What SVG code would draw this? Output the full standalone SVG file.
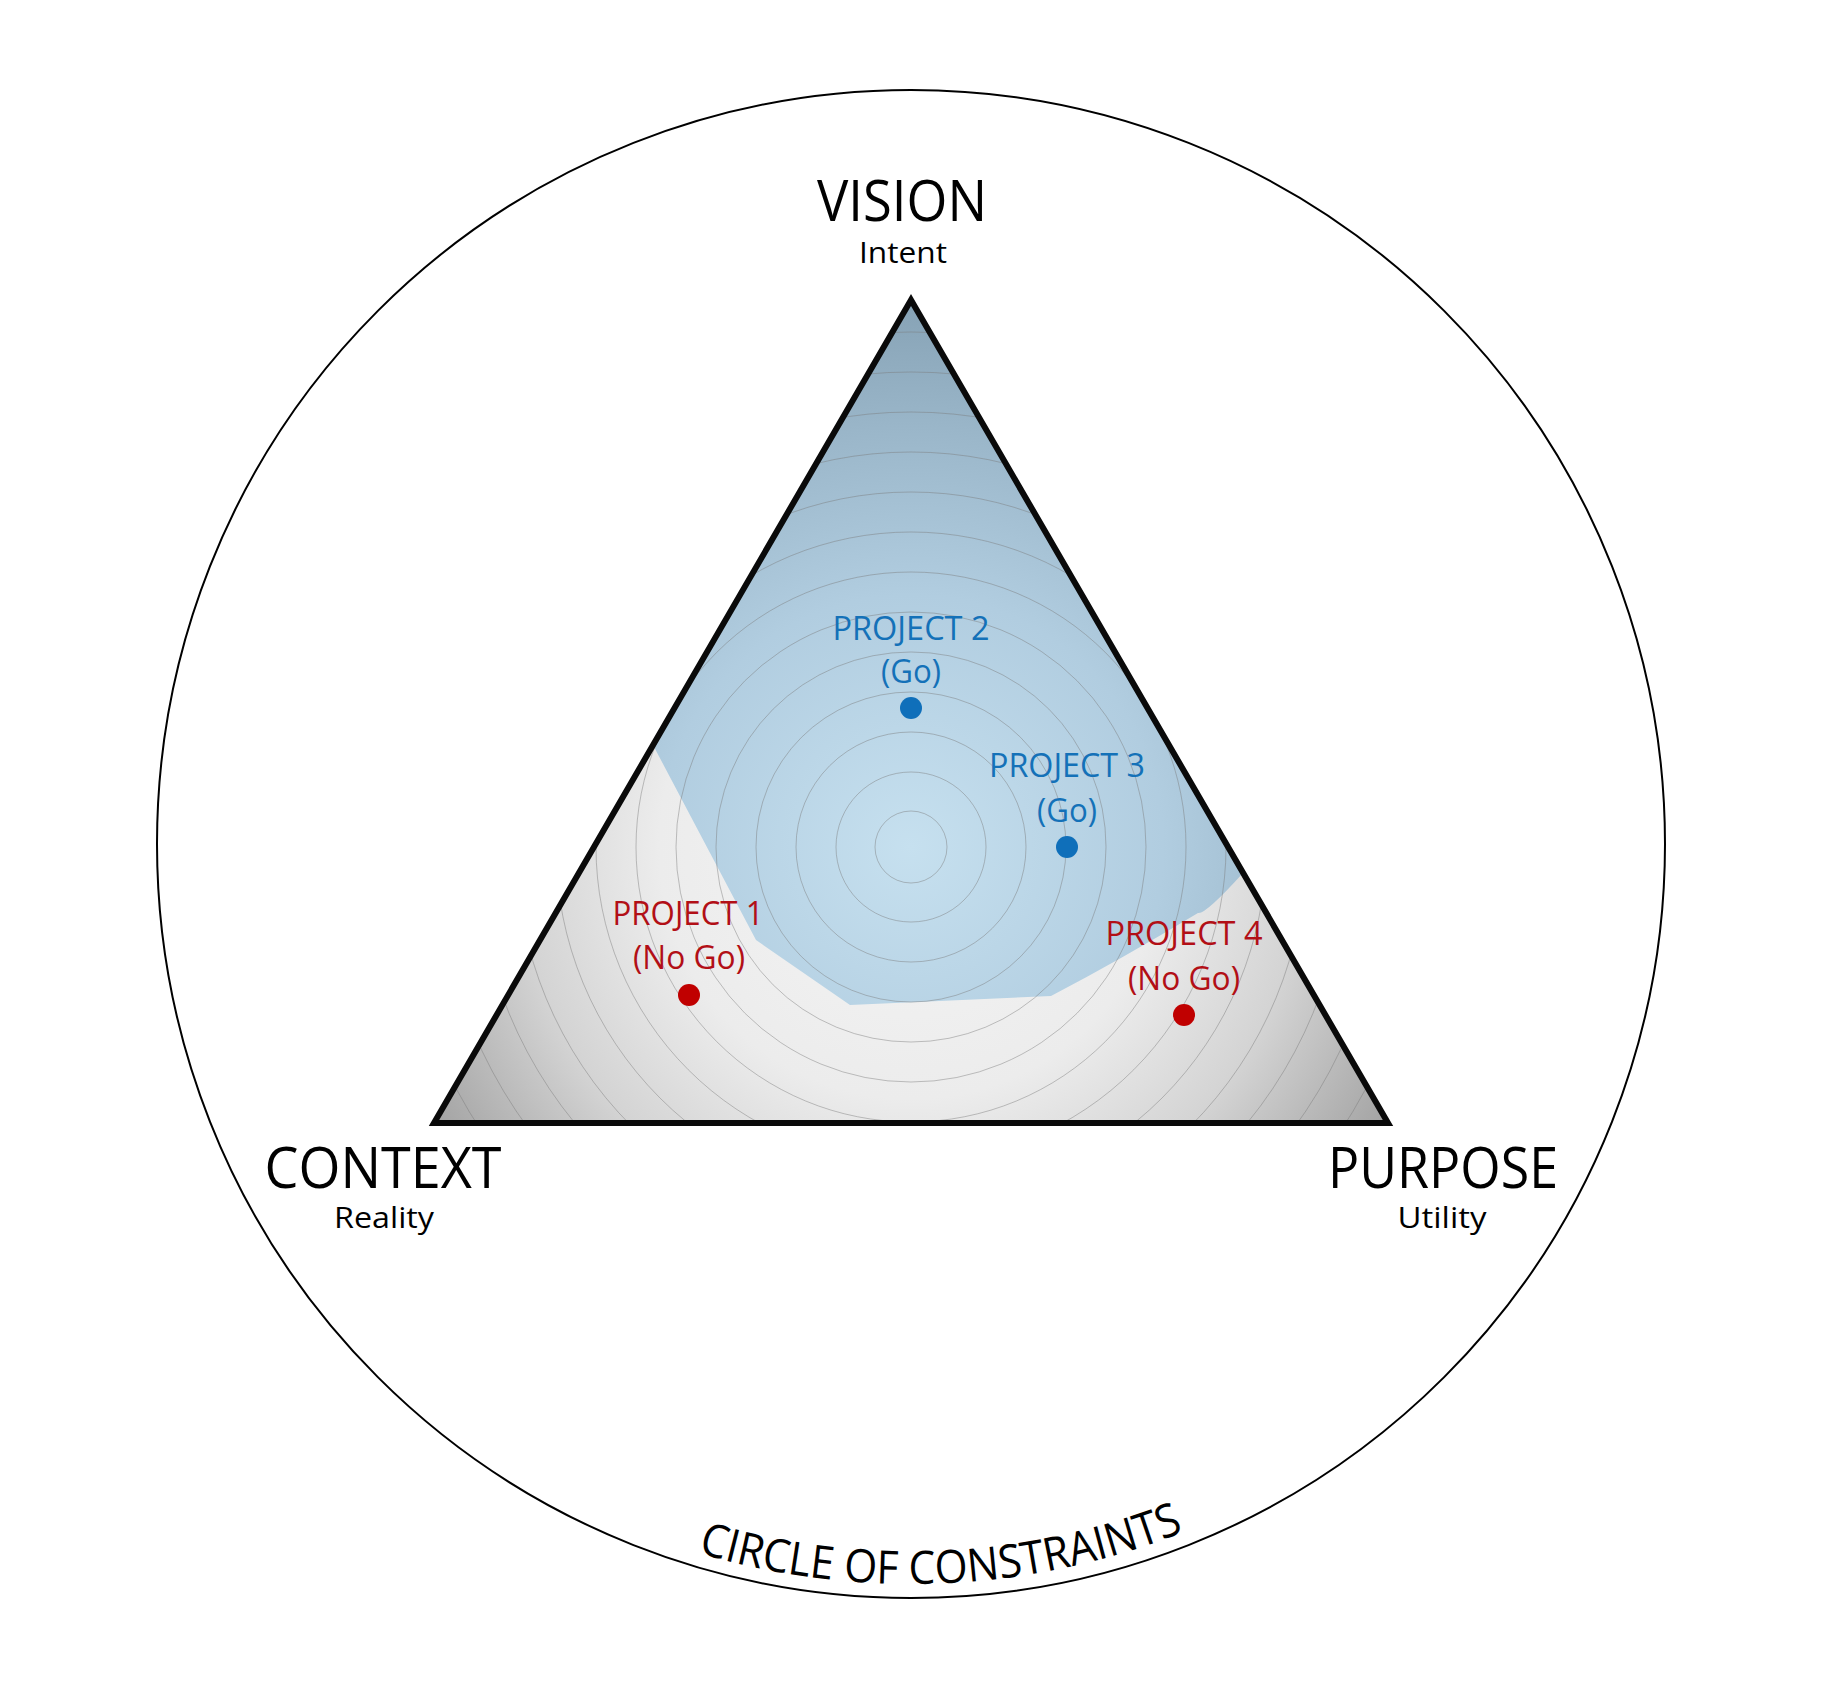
<svg xmlns="http://www.w3.org/2000/svg" width="1823" height="1689" viewBox="0 0 1823 1689">
<style>
  text { font-family: "Open Sans", "Noto Sans", "Liberation Sans", sans-serif; }
  .big { font-size: 56px; fill: #000; text-anchor: middle; }
  .sub { font-size: 30px; fill: #000; text-anchor: middle; }
  .go { font-size: 33px; fill: #1471b8; text-anchor: middle; }
  .nogo { font-size: 33px; fill: #b20f16; text-anchor: middle; }
  .ring { fill: none; stroke: #7a7a7a; stroke-opacity: 0.5; stroke-width: 0.9; }
  .dotgo { fill: #0f6fba; }
  .dotno { fill: #c00000; }
</style>
<defs>
  <radialGradient id="grayGrad" gradientUnits="userSpaceOnUse" cx="911" cy="847" r="560">
    <stop offset="0" stop-color="#f5f5f5"/>
    <stop offset="0.45" stop-color="#ececec"/>
    <stop offset="0.7" stop-color="#d4d4d4"/>
    <stop offset="1" stop-color="#a0a0a0"/>
  </radialGradient>
  <radialGradient id="blueGrad" gradientUnits="userSpaceOnUse" cx="911" cy="847" r="560">
    <stop offset="0" stop-color="#c6e0ef"/>
    <stop offset="0.45" stop-color="#b1cde0"/>
    <stop offset="0.75" stop-color="#9ab6c9"/>
    <stop offset="1" stop-color="#84a0b3"/>
  </radialGradient>
  <clipPath id="triClip">
    <polygon points="911,300 434,1123 1388,1123"/>
  </clipPath>
  <path id="arcPath" d="M 171,844 A 740 740 0 0 0 1651,844"/>
</defs>
<rect width="1823" height="1689" fill="#fff"/>

<g id="circle-of-constraints">
  <circle cx="911" cy="844" r="754" fill="none" stroke="#000" stroke-width="2"/>
  <text style="font-size:46px; fill:#000; text-anchor:middle;"><textPath href="#arcPath" startOffset="1194" textLength="496" lengthAdjust="spacingAndGlyphs">CIRCLE OF CONSTRAINTS</textPath></text>
</g>

<g id="triangle">
  <polygon points="911,300 434,1123 1388,1123" fill="url(#grayGrad)"/>
  <path d="M 653,745 L 911,300 L 1243,873 Q 1205,915 1198,913 Q 1120,960 1051,996 L 850,1005 L 756,940 Z" fill="url(#blueGrad)" clip-path="url(#triClip)"/>
  <g clip-path="url(#triClip)">
    <circle class="ring" cx="911" cy="847" r="36"/>
    <circle class="ring" cx="911" cy="847" r="75"/>
    <circle class="ring" cx="911" cy="847" r="115"/>
    <circle class="ring" cx="911" cy="847" r="155"/>
    <circle class="ring" cx="911" cy="847" r="195"/>
    <circle class="ring" cx="911" cy="847" r="235"/>
    <circle class="ring" cx="911" cy="847" r="275"/>
    <circle class="ring" cx="911" cy="847" r="315"/>
    <circle class="ring" cx="911" cy="847" r="355"/>
    <circle class="ring" cx="911" cy="847" r="395"/>
    <circle class="ring" cx="911" cy="847" r="435"/>
    <circle class="ring" cx="911" cy="847" r="475"/>
    <circle class="ring" cx="911" cy="847" r="515"/>
    <circle class="ring" cx="911" cy="847" r="555"/>
  </g>
  <polygon points="911,300 434,1123 1388,1123" fill="none" stroke="#0a0a0a" stroke-width="6"/>
</g>

<g id="vision">
  <text class="big" x="902" y="221" textLength="170" lengthAdjust="spacingAndGlyphs">VISION</text>
  <text class="sub" x="903" y="263" textLength="88" lengthAdjust="spacingAndGlyphs">Intent</text>
</g>
<g id="context">
  <text class="big" x="383" y="1188" textLength="237" lengthAdjust="spacingAndGlyphs">CONTEXT</text>
  <text class="sub" x="384" y="1228" textLength="100" lengthAdjust="spacingAndGlyphs">Reality</text>
</g>
<g id="purpose">
  <text class="big" x="1443" y="1188" textLength="230" lengthAdjust="spacingAndGlyphs">PURPOSE</text>
  <text class="sub" x="1442" y="1228" textLength="89" lengthAdjust="spacingAndGlyphs">Utility</text>
</g>

<g id="project-1">
  <text class="nogo" x="688" y="925" textLength="151" lengthAdjust="spacingAndGlyphs">PROJECT 1</text>
  <text class="nogo" x="689" y="969" textLength="112" lengthAdjust="spacingAndGlyphs">(No Go)</text>
  <circle class="dotno" cx="689" cy="995" r="11"/>
</g>
<g id="project-2">
  <text class="go" x="911" y="640" textLength="157" lengthAdjust="spacingAndGlyphs">PROJECT 2</text>
  <text class="go" x="911" y="683" textLength="60" lengthAdjust="spacingAndGlyphs">(Go)</text>
  <circle class="dotgo" cx="911" cy="708" r="11"/>
</g>
<g id="project-3">
  <text class="go" x="1067" y="777" textLength="156" lengthAdjust="spacingAndGlyphs">PROJECT 3</text>
  <text class="go" x="1067" y="822" textLength="60" lengthAdjust="spacingAndGlyphs">(Go)</text>
  <circle class="dotgo" cx="1067" cy="847" r="11"/>
</g>
<g id="project-4">
  <text class="nogo" x="1184" y="945" textLength="157" lengthAdjust="spacingAndGlyphs">PROJECT 4</text>
  <text class="nogo" x="1184" y="990" textLength="112" lengthAdjust="spacingAndGlyphs">(No Go)</text>
  <circle class="dotno" cx="1184" cy="1015" r="11"/>
</g>

<g id="connectors"/>
</svg>
